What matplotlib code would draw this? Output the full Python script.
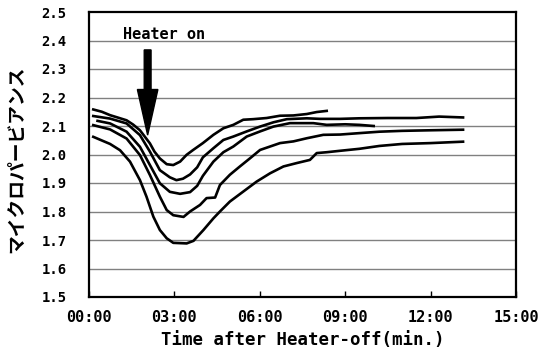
import matplotlib
matplotlib.use("Agg")
import matplotlib.pyplot as plt
from matplotlib.patches import FancyArrow

# time (min) and microperveance readings for each run
t1 = [0.15, 0.45, 0.74, 1.0, 1.32, 1.55, 1.79, 2.14, 2.3, 2.49, 2.73, 2.96, 3.2, 3.43, 3.66,
      4.0, 4.37, 4.72, 5.07, 5.42, 5.77, 6.24, 6.71, 7.18, 7.65, 8.0, 8.35]
v1 = [2.158, 2.15, 2.138, 2.13, 2.12, 2.105, 2.085, 2.039, 2.01, 1.986, 1.966, 1.963, 1.975, 1.999, 2.016,
      2.04, 2.069, 2.092, 2.104, 2.122, 2.124, 2.128, 2.136, 2.137, 2.142, 2.149, 2.153]

t2 = [0.15, 0.74, 1.32, 1.79, 2.14, 2.49, 2.84, 3.07, 3.3, 3.55, 3.8, 4.0, 4.37, 4.72, 5.07,
      5.54, 6.01, 6.48, 6.95, 7.65, 8.12, 8.82, 9.5, 10.5, 11.5, 12.3, 13.14]
v2 = [2.135, 2.126, 2.109, 2.068, 2.01, 1.945, 1.92, 1.91, 1.915, 1.93, 1.955, 1.99, 2.022, 2.051, 2.063,
      2.081, 2.098, 2.113, 2.124, 2.127, 2.125, 2.125, 2.127, 2.128, 2.128, 2.133, 2.13]

t3 = [0.3, 0.74, 1.32, 1.79, 2.14, 2.49, 2.84, 3.2, 3.55, 3.8, 4.0, 4.37, 4.72, 5.07, 5.54,
      6.01, 6.48, 7.06, 7.88, 8.35, 9.0, 9.5, 10.0]
v3 = [2.118, 2.109, 2.08, 2.027, 1.963, 1.899, 1.869, 1.862, 1.868, 1.89, 1.925, 1.975, 2.008, 2.028, 2.063,
      2.081, 2.098, 2.11, 2.11, 2.104, 2.106, 2.104, 2.1]

t4 = [0.15, 0.74, 1.32, 1.79, 2.14, 2.49, 2.73, 2.96, 3.32, 3.55, 3.9, 4.13, 4.43, 4.6, 4.95,
      5.3, 5.66, 6.01, 6.36, 6.71, 7.18, 7.65, 8.23, 8.82, 9.5, 10.2, 11.0, 12.0, 13.14]
v4 = [2.103, 2.088, 2.056, 1.998, 1.928, 1.852, 1.805, 1.787, 1.781, 1.8, 1.823, 1.847, 1.849, 1.893, 1.929,
      1.958, 1.987, 2.016, 2.028, 2.04, 2.046, 2.057, 2.069, 2.07, 2.075, 2.08, 2.083, 2.085, 2.087]

t5 = [0.15, 0.74, 1.09, 1.44, 1.79, 2.02, 2.26, 2.49, 2.73, 2.96, 3.43, 3.67, 4.02, 4.37, 4.6,
      4.95, 5.42, 5.89, 6.36, 6.83, 7.3, 7.76, 8.0, 8.35, 8.82, 9.5, 10.2, 11.0, 12.0, 13.14]
v5 = [2.062, 2.037, 2.015, 1.975, 1.91, 1.852, 1.782, 1.735, 1.706, 1.69, 1.688, 1.697, 1.735, 1.776, 1.8,
      1.835, 1.87, 1.905, 1.934, 1.958, 1.97, 1.981, 2.005, 2.008, 2.013, 2.02, 2.03, 2.037, 2.04, 2.045]

xticks = [0, 3, 6, 9, 12, 15]
xticklabels = ["00:00", "03:00", "06:00", "09:00", "12:00", "15:00"]
yticks = [1.5, 1.6, 1.7, 1.8, 1.9, 2.0, 2.1, 2.2, 2.3, 2.4, 2.5]

mono = "DejaVu Sans Mono"

fig = plt.figure(figsize=(5.41, 3.61), dpi=100)
ax = fig.add_axes([89/541, 1-297/361, 427/541, 285/361])

# gridlines
for y in yticks[1:-1]:
    ax.axhline(y, color="#808080", lw=1.0, zorder=1)

for t, v in [(t1, v1), (t2, v2), (t3, v3), (t4, v4), (t5, v5)]:
    ax.plot(t, v, color="black", lw=1.9, zorder=3)

ax.set_xlim(0, 15)
ax.set_ylim(1.5, 2.5)
ax.set_xticks(xticks)
ax.set_xticklabels(xticklabels, fontfamily=mono, fontweight="bold", fontsize=11)
ax.set_yticks(yticks)
ax.set_yticklabels(["%.1f" % y for y in yticks], fontfamily=mono, fontweight="bold", fontsize=10)
ax.tick_params(axis="x", direction="in", length=4, width=1, pad=9)
ax.tick_params(axis="y", length=0, pad=16)
for s in ax.spines.values():
    s.set_linewidth(1.6)

ax.set_xlabel("Time after Heater-off(min.)", fontfamily=mono, fontweight="bold", fontsize=12.5, labelpad=5)
fig.text(17/541, 1-159/361, "マイクロパービアンス", rotation=90, ha="center", va="center",
         fontfamily="Noto Sans CJK JP", fontweight="bold", fontsize=13.5)

# heater-on arrow
ax.add_patch(FancyArrow(2.06, 2.367, 0, -0.299, width=0.24, head_width=0.72, head_length=0.16,
                        length_includes_head=True, color="black", zorder=4))
ax.text(1.19, 2.405, "Heater on", fontfamily=mono, fontweight="bold", fontsize=11, va="baseline")

fig.savefig("out.png", dpi=100)
